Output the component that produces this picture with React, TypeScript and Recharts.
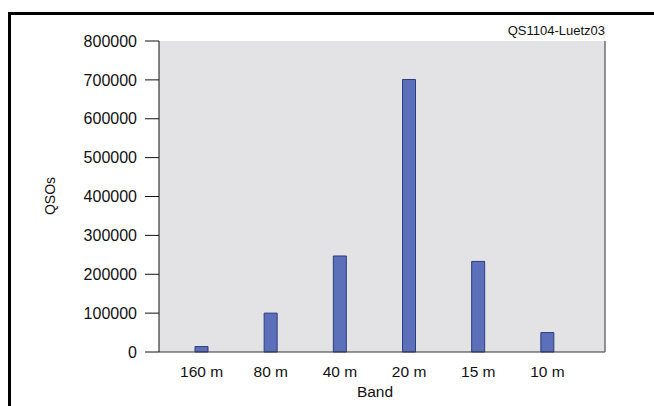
import { Bar, BarChart, CartesianGrid, XAxis, YAxis } from "recharts";

const bands = ["160 m", "80 m", "40 m", "20 m", "15 m", "10 m"];
const qsos = [14000, 100000, 247000, 701000, 233000, 50000];
const yTicks = [0, 100000, 200000, 300000, 400000, 500000, 600000, 700000, 800000];

const data = bands.map((band, i) => ({ band, qsos: qsos[i] }));

const FONT = "'Liberation Sans', Arial, sans-serif";

export default function App() {
  return (
    <div style={{ position: "absolute", left: 0, top: 0, width: 654, height: 406, background: "#fff", overflow: "hidden" }}>
      <div
        style={{
          position: "absolute",
          left: 8,
          top: 12,
          width: 700,
          height: 450,
          borderTop: "3px solid #000",
          borderLeft: "3px solid #000",
        }}
      />
      <BarChart
        width={654}
        height={406}
        data={data}
        margin={{ top: 41, right: 0, left: 0, bottom: 24 }}
        style={{ position: "absolute", left: 0, top: 0, fontFamily: FONT }}
      >
        <CartesianGrid fill="#e3e3e6" stroke="#222" vertical={false} horizontalValues={yTicks} />
        <XAxis
          dataKey="band"
          height={30}
          padding={{ left: 8, right: 23 }}
          tickLine={false}
          tickSize={0}
          tickMargin={14}
          axisLine={{ stroke: "#333" }}
          tick={{ fontSize: 15.5, fill: "#111" }}
          label={{
            content: () => (
              <text x={375} y={397} textAnchor="middle" fontSize={15.5} fill="#111" fontFamily={FONT}>
                Band
              </text>
            ),
          }}
        />
        <YAxis
          yAxisId="left"
          width={159}
          domain={[0, 800000]}
          ticks={yTicks}
          interval={0}
          tickSize={14}
          tickMargin={8}
          tickLine={{ stroke: "#111" }}
          axisLine={{ stroke: "#111" }}
          tick={{ fontSize: 16, fill: "#111" }}
          label={{
            content: () => (
              <text
                x={55}
                y={196}
                transform="rotate(-90 55 196)"
                textAnchor="middle"
                fontSize={14}
                fill="#111"
                fontFamily={FONT}
              >
                QSOs
              </text>
            ),
          }}
        />
        <YAxis
          yAxisId="right"
          orientation="right"
          width={49}
          domain={[0, 800000]}
          tick={false}
          tickLine={false}
          axisLine={{ stroke: "#6e6e6e", strokeWidth: 1.5 }}
          label={{
            content: () => (
              <text x={605} y={35} textAnchor="end" fontSize={13} fill="#111" fontFamily={FONT}>
                QS1104-Luetz03
              </text>
            ),
          }}
        />
        <Bar
          yAxisId="left"
          dataKey="qsos"
          barSize={13}
          fill="#5b6fba"
          stroke="#2e3d7c"
          strokeWidth={1}
          isAnimationActive={false}
        />
      </BarChart>
    </div>
  );
}
